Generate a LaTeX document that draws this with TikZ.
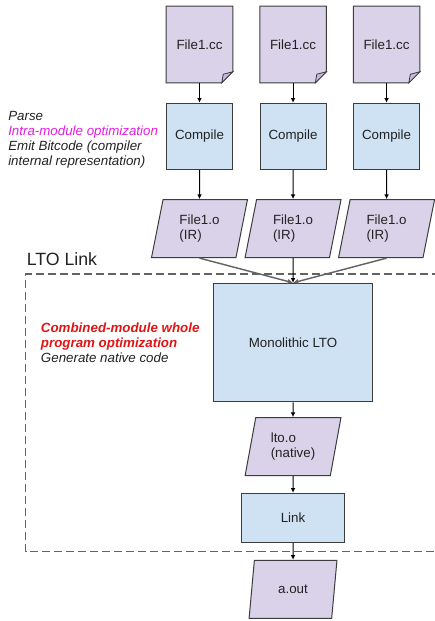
\documentclass[tikz,border=0pt]{standalone}
\usepackage{fontspec}
\setmainfont{Liberation Sans}
\usetikzlibrary{arrows.meta,positioning,calc,shapes.geometric,backgrounds}
\definecolor{LTOBorder}{RGB}{60,60,60}
\definecolor{LTOText}{RGB}{34,34,34}
\definecolor{LTOPurple}{RGB}{217,210,233}
\definecolor{LTOFold}{RGB}{196,186,222}
\definecolor{LTOBlue}{RGB}{207,226,243}
\definecolor{LTOGray}{RGB}{102,102,102}
\definecolor{LTOMagenta}{RGB}{228,30,228}
\definecolor{LTORed}{RGB}{225,20,20}

\begin{document}
\begin{tikzpicture}[x=0.75pt,y=-0.75pt,
  font=\fontsize{10}{11.25}\selectfont,text=LTOText,
  srcfile/.style={minimum width=49.5pt,minimum height=57pt,inner sep=0pt},
  stage/.style={draw=LTOBorder,line width=0.75pt,fill=LTOBlue,inner sep=0pt},
  data/.style={trapezium,trapezium left angle=77,trapezium right angle=103,
               trapezium stretches=true,draw=LTOBorder,line width=0.75pt,
               fill=LTOPurple,align=left,inner sep=0pt,
               minimum width=72pt,minimum height=43.5pt},
  note/.style={align=left,font=\fontsize{10}{11.25}\selectfont\itshape,inner sep=0pt},
  arrow/.style={-{Latex[length=3.5pt,width=3.5pt]},draw=black,line width=0.75pt},
  merge/.style={-{Latex[length=4pt,width=4pt]},draw=LTOGray,line width=1.1pt},
  frame/.style={draw=LTOBorder!80,line width=1pt,dash pattern=on 6pt off 3pt}
]
\useasboundingbox (0,0) rectangle (435,621);
\clip (0,0) rectangle (435,621);

% per-file compile
\node[srcfile] (src1) at (199.5,44.5) {File1.cc};
\node[srcfile,right=20.25pt of src1] (src2) {File1.cc};
\node[srcfile,right=20.25pt of src2] (src3) {File1.cc};
\foreach \f in {1,2,3}{
  \node[stage,minimum width=49.5pt,minimum height=49.5pt,below=15pt of src\f] (comp\f) {Compile};
  \node[data,below=22pt of comp\f] (ir\f) {File1.o\\(IR)};
}
\begin{scope}[on background layer]
\foreach \f in {src1,src2,src3}{
  \filldraw[draw=LTOBorder,fill=LTOPurple,line width=0.75pt]
    (\f.north west) -- (\f.north east) -- ($(\f.south east)+(0,-11)$)
    -- ($(\f.south east)+(-11,0)$) -- (\f.south west) -- cycle;
  \filldraw[draw=LTOBorder,fill=LTOFold,line width=0.6pt]
    ($(\f.south east)+(0,-11)$) -- ($(\f.south east)+(-9.5,-8.5)$)
    -- ($(\f.south east)+(-11,0)$) -- cycle;
}
\end{scope}
\node[note,anchor=west] (compilenote) at (8,140)
  {Parse\\\textcolor{LTOMagenta}{Intra-module optimization}\\Emit Bitcode (compiler\\internal representation)};

% link step
\node[stage,minimum width=119.25pt,minimum height=89pt,below=18.5pt of ir2] (mono) {Monolithic LTO};
\node[data,below=11pt of mono] (lto) {lto.o\\(native)};
\node[stage,minimum width=77.25pt,minimum height=37pt,below=12.5pt of lto] (link) {Link};
\node[data,minimum width=66pt,below=12.5pt of link] (aout) {a.out};
\node[note,anchor=west] (ltonote) at (40.7,343)
  {\textcolor{LTORed}{\bfseries Combined-module whole}\\\textcolor{LTORed}{\bfseries program optimization}\\Generate native code};

\coordinate (frameNE) at (440,274);
\coordinate (frameNW) at (25.7,274);
\coordinate (frameSW) at (25.7,551.5);
\coordinate (frameSE) at (440,551.5);
\draw[frame] (frameNE) -- (frameNW) -- (frameSW) -- (frameSE);
\node[anchor=base west,inner sep=0pt,font=\fontsize{13.3}{16}\selectfont] (ltolabel) at (26.5,265) {LTO Link};

\foreach \f in {1,2,3}{
  \draw[arrow] (src\f) -- (comp\f); \draw[arrow] (comp\f) -- (ir\f);
}
\draw[merge] (ir1.south) -- (mono.north); \draw[merge] (ir3.south) -- (mono.north);
\draw[arrow] (ir2) -- (mono);
\draw[arrow] (mono) -- (lto); \draw[arrow] (lto) -- (link); \draw[arrow] (link) -- (aout);
\end{tikzpicture}
\end{document}
